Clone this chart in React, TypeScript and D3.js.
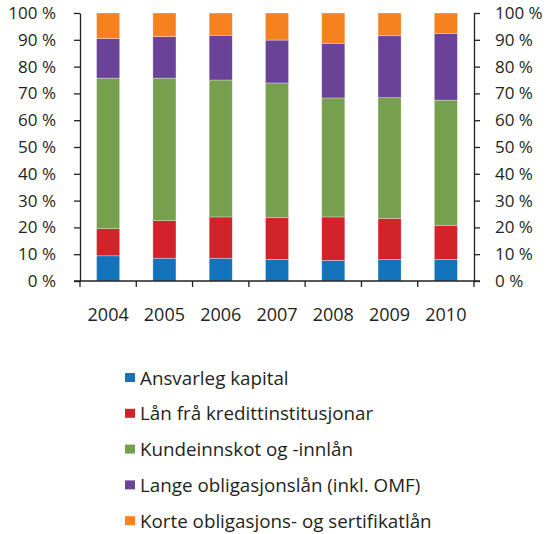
import { useRef, useEffect } from "react";
import * as d3 from "d3";

const YEARS = ["2004", "2005", "2006", "2007", "2008", "2009", "2010"];

const SERIES_NAMES = [
  "Ansvarleg kapital",
  "Lån frå kredittinstitusjonar",
  "Kundeinnskot og -innlån",
  "Lange obligasjonslån (inkl. OMF)",
  "Korte obligasjons- og sertifikatlån",
];

const ANSVARLEG = [9.4, 8.5, 8.5, 8.1, 7.7, 8.0, 8.1];
const KREDITT = [10.1, 14.0, 15.4, 15.5, 16.2, 15.4, 12.7];
const KUNDE = [56.2, 53.2, 51.1, 50.3, 44.4, 45.0, 46.7];
const LANGE = [14.8, 15.5, 16.7, 16.0, 20.4, 23.1, 24.8];
const KORTE = [9.5, 8.8, 8.3, 10.1, 11.3, 8.5, 7.7];

const Y_TICKS = [0, 10, 20, 30, 40, 50, 60, 70, 80, 90, 100];

const COLORS = ["#1374bc", "#d2232a", "#77a04e", "#6a4298", "#f5821f"];

const W = 550;
const H = 534;
const PLOT = { left: 80, right: 474, top: 13, bottom: 281 };
const FONT = "'Open Sans', 'Noto Sans', sans-serif";
const INK = "#231f20";

type Row = { year: string; [key: string]: number | string };

export default function App() {
  const leftRef = useRef<SVGGElement>(null);
  const rightRef = useRef<SVGGElement>(null);
  const bottomRef = useRef<SVGGElement>(null);

  const keys = SERIES_NAMES;
  const rows: Row[] = YEARS.map((year, i) => ({
    year,
    [keys[0]]: ANSVARLEG[i],
    [keys[1]]: KREDITT[i],
    [keys[2]]: KUNDE[i],
    [keys[3]]: LANGE[i],
    [keys[4]]: KORTE[i],
  }));

  const stack = d3.stack<Row>().keys(keys).value((d, k) => d[k] as number);
  const layers = stack(rows);

  const x = d3
    .scaleBand<string>()
    .domain(YEARS)
    .range([PLOT.left, PLOT.right])
    .paddingInner(0.59)
    .paddingOuter(0.295);

  const y = d3.scaleLinear().domain([0, 100]).range([PLOT.bottom, PLOT.top]);

  // tick marks sit on the category boundaries
  const boundaries = d3.range(YEARS.length + 1).map((i) => PLOT.left + i * x.step());

  useEffect(() => {
    const style = (g: d3.Selection<SVGGElement, unknown, null, undefined>, size: number) => {
      g.select(".domain").attr("stroke", INK).attr("stroke-width", 1.3);
      g.selectAll(".tick line").attr("stroke", INK).attr("stroke-width", 1.3);
      g.selectAll<SVGTextElement, unknown>(".tick text")
        .attr("fill", INK)
        .attr("font-size", size)
        .attr("font-family", FONT);
    };
    if (leftRef.current) {
      d3.select(leftRef.current)
        .call(
          d3
            .axisLeft(y)
            .tickValues(Y_TICKS)
            .tickFormat((d) => `${d} %`)
            .tickSize(6)
            .tickSizeOuter(0)
            .tickPadding(18)
        )
        .call((g) => style(g, 17));
    }
    if (rightRef.current) {
      d3.select(rightRef.current)
        .call(
          d3
            .axisRight(y)
            .tickValues(Y_TICKS)
            .tickFormat((d) => `${d} %`)
            .tickSize(6)
            .tickSizeOuter(0)
            .tickPadding(15)
        )
        .call((g) => style(g, 17));
    }
    if (bottomRef.current) {
      const g = d3.select(bottomRef.current);
      g.selectAll("*").remove();
      g.append("line")
        .attr("x1", PLOT.left - 6)
        .attr("x2", PLOT.right + 6)
        .attr("y1", 0)
        .attr("y2", 0)
        .attr("stroke", INK)
        .attr("stroke-width", 1.3);
      g.selectAll("line.tk")
        .data(boundaries)
        .join("line")
        .attr("class", "tk")
        .attr("x1", (d) => d)
        .attr("x2", (d) => d)
        .attr("y1", 0)
        .attr("y2", 6)
        .attr("stroke", INK)
        .attr("stroke-width", 1.3);
      g.selectAll("text")
        .data(YEARS)
        .join("text")
        .attr("x", (d) => (x(d) ?? 0) + x.bandwidth() / 2)
        .attr("y", 40)
        .attr("text-anchor", "middle")
        .attr("fill", INK)
        .attr("font-size", 18)
        .attr("font-family", FONT)
        .text((d) => d);
    }
  }, []);

  return (
    <svg
      width={W}
      height={H}
      style={{ display: "block", position: "fixed", left: 0, top: 0 }}
    >
      <rect width={W} height={H} fill="#fff" />
      {layers.map((layer, li) => (
        <g key={layer.key} fill={COLORS[li]}>
          {layer.map((seg) => (
            <rect
              key={seg.data.year}
              x={x(seg.data.year)}
              y={y(seg[1])}
              width={x.bandwidth()}
              height={y(seg[0]) - y(seg[1])}
              stroke="#ffffff"
              strokeOpacity={0.5}
              strokeWidth={0.6}
            />
          ))}
        </g>
      ))}
      <g ref={leftRef} transform={`translate(${PLOT.left},0)`} />
      <g ref={rightRef} transform={`translate(${PLOT.right},0)`} />
      <g ref={bottomRef} transform={`translate(0,${PLOT.bottom})`} />

      {/* Legend */}
      {SERIES_NAMES.map((name, i) => (
        <g key={name} transform={`translate(125,${378 + i * 35.8})`}>
          <rect x={0} y={-5} width={10} height={9} fill={COLORS[i]} />
          <text
            x={15}
            y={0}
            dy="0.35em"
            fontSize={18.8}
            fontFamily={FONT}
            fill={INK}
          >
            {name}
          </text>
        </g>
      ))}
    </svg>
  );
}
